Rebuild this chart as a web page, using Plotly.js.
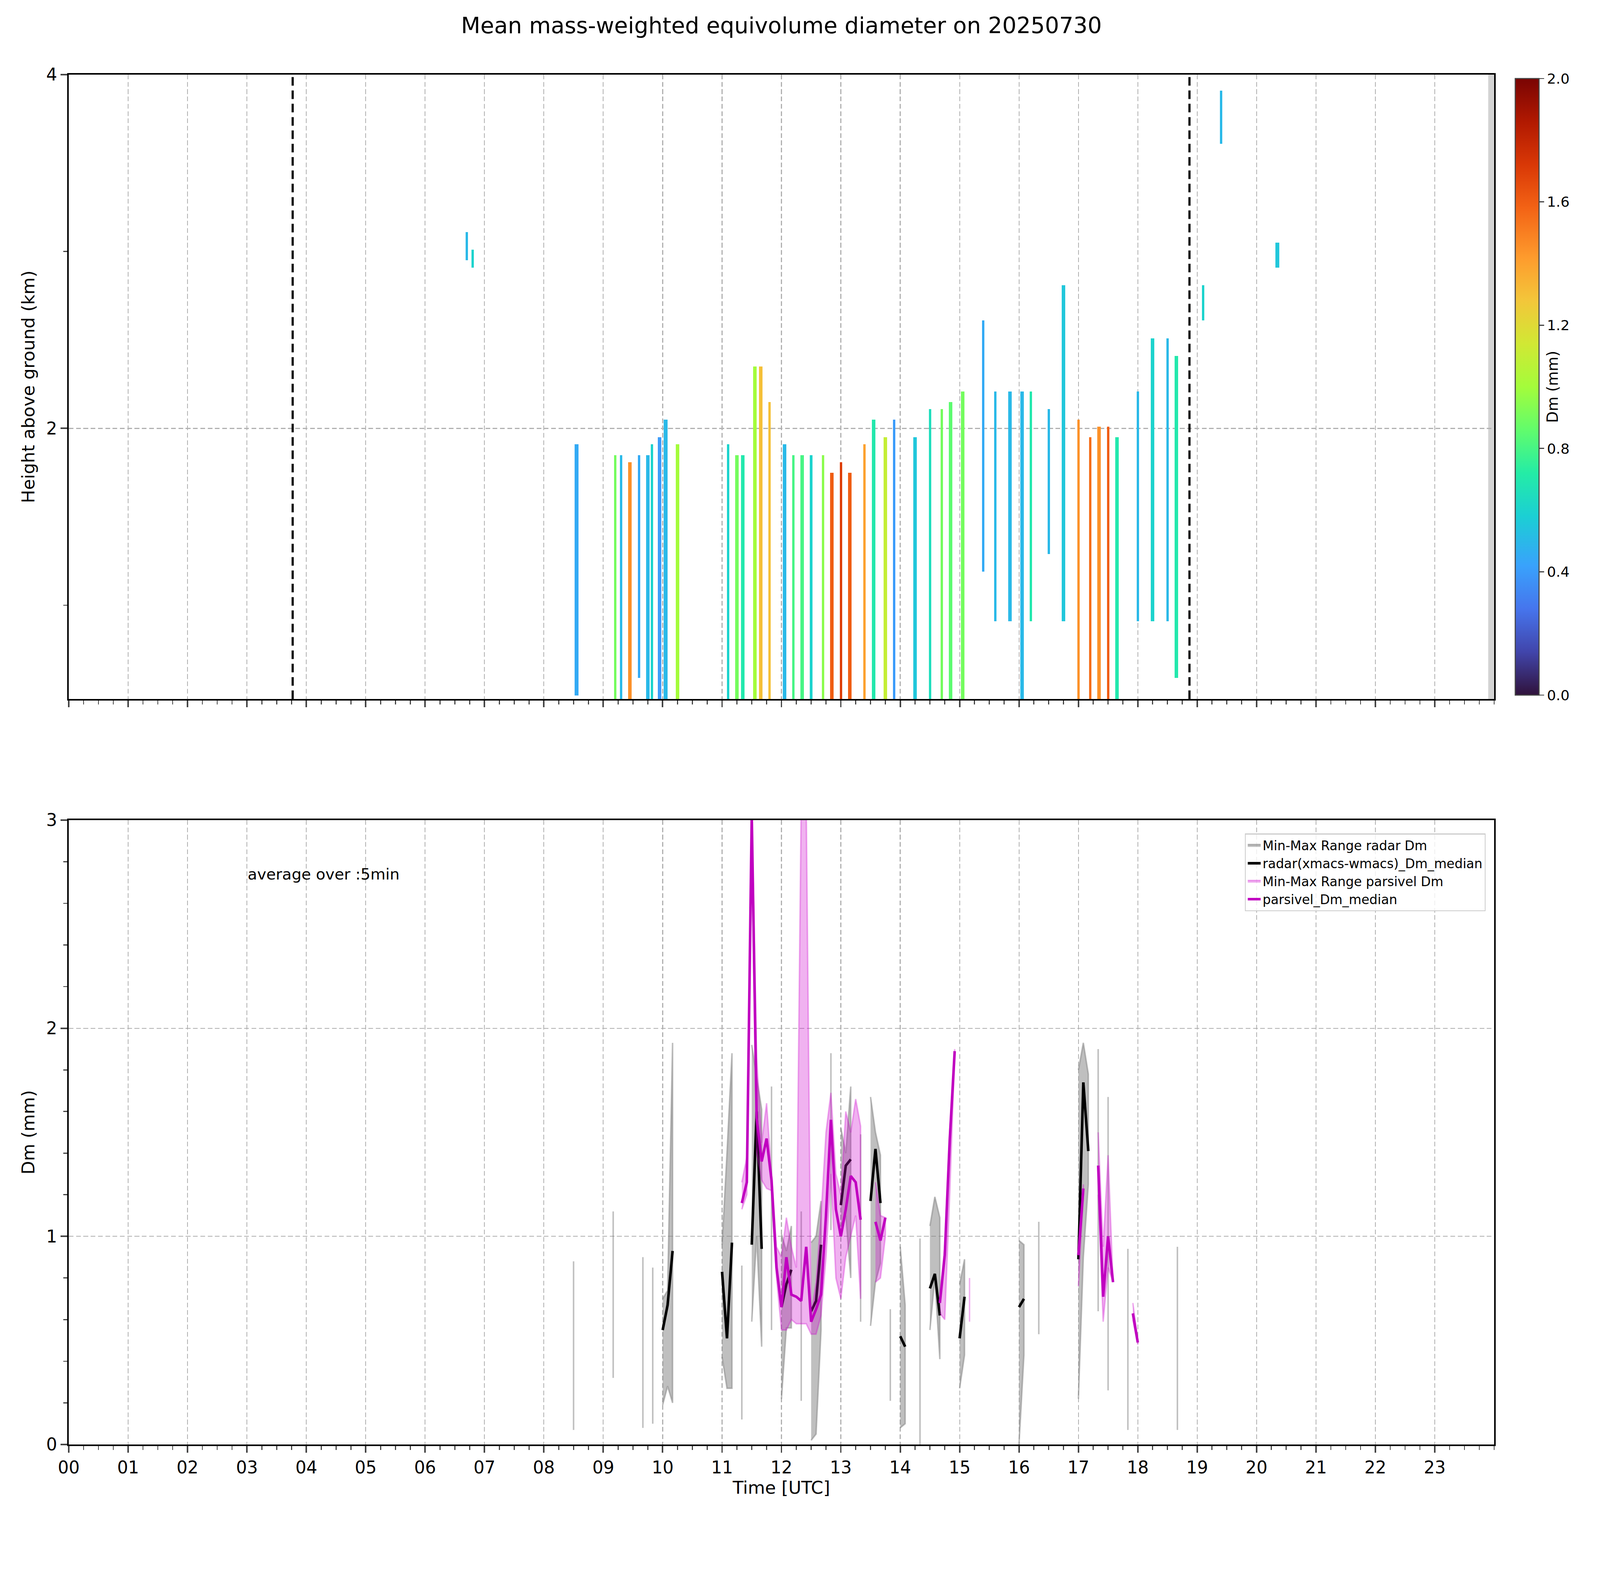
<!DOCTYPE html>
<html>
<head>
<meta charset="utf-8">
<script src="https://cdn.plot.ly/plotly-3.0.1.min.js"></script>
<style>html,body{margin:0;padding:0;background:#fff;overflow:hidden}</style>
</head>
<body>
<div id="chart"></div>
<script>
// radar stripes (top panel): centre hour, base height, top height (km), Dm (mm)
const stripeHour = [6.7, 6.8, 8.55, 9.2, 9.3, 9.45, 9.6, 9.75, 9.82, 9.95, 10.05, 10.25, 11.1, 11.25, 11.35, 11.55, 11.65, 11.8,
  12.05, 12.2, 12.35, 12.5, 12.7, 12.85, 13.0, 13.15, 13.4, 13.55, 13.75, 13.9, 14.25, 14.5, 14.7, 14.85, 15.05,
  15.4, 15.6, 15.85, 16.05, 16.2, 16.5, 16.75, 17.0, 17.2, 17.35, 17.5, 17.65, 18.0, 18.25, 18.5, 18.65, 19.1, 19.4, 20.35];
const stripeBase = [2.95, 2.9, 0.5, 0.47, 0.47, 0.47, 0.6, 0.47, 0.47, 0.47, 0.47, 0.47, 0.47, 0.47, 0.47, 0.47, 0.47, 0.47,
  0.47, 0.47, 0.47, 0.47, 0.47, 0.47, 0.47, 0.47, 0.47, 0.47, 0.47, 0.47, 0.47, 0.47, 0.47, 0.47, 0.47,
  1.2, 0.9, 0.9, 0.47, 0.9, 1.3, 0.9, 0.47, 0.47, 0.47, 0.47, 0.47, 0.9, 0.9, 0.9, 0.6, 2.6, 3.6, 2.9];
const stripeTop = [3.1, 3.0, 1.9, 1.85, 1.85, 1.8, 1.85, 1.85, 1.9, 1.95, 2.05, 1.9, 1.9, 1.85, 1.85, 2.35, 2.35, 2.15,
  1.9, 1.85, 1.85, 1.85, 1.85, 1.75, 1.8, 1.75, 1.9, 2.05, 1.95, 2.05, 1.95, 2.1, 2.1, 2.15, 2.2,
  2.6, 2.2, 2.2, 2.2, 2.2, 2.1, 2.8, 2.05, 1.95, 2.0, 2.0, 1.95, 2.2, 2.5, 2.5, 2.4, 2.8, 3.9, 3.05];
const stripeDm = [0.5, 0.6, 0.45, 0.9, 0.5, 1.45, 0.45, 0.5, 0.6, 0.4, 0.5, 1.0, 0.6, 0.9, 0.7, 1.0, 1.3, 1.3,
  0.5, 0.8, 0.8, 0.6, 0.95, 1.6, 1.7, 1.6, 1.4, 0.7, 1.1, 0.4, 0.55, 0.65, 0.9, 0.85, 0.9,
  0.45, 0.5, 0.5, 0.5, 0.7, 0.5, 0.55, 1.45, 1.55, 1.45, 1.6, 0.7, 0.5, 0.6, 0.5, 0.7, 0.6, 0.5, 0.55];
const radarEdges = [3.77, 18.87];

// bottom panel, 5-min averages (hours, mm)
const radarTime = [8.5, 9.167, 9.667, 9.833, 10.0, 10.083, 10.167, 11.0, 11.083, 11.167, 11.333, 11.5, 11.583, 11.667, 11.833,
  12.0, 12.083, 12.167, 12.333, 12.5, 12.583, 12.667, 12.833, 13.0, 13.083, 13.167, 13.333, 13.5, 13.583, 13.667, 13.833,
  14.0, 14.083, 14.333, 14.5, 14.583, 14.667, 15.0, 15.083, 16.0, 16.083, 16.333, 17.0, 17.083, 17.167, 17.333, 17.5, 17.833, 18.667];
const radarMin = [0.07, 0.32, 0.08, 0.1, 0.19, 0.28, 0.2, 0.42, 0.27, 0.27, 0.12, 0.59, 1.0, 0.47, 0.55,
  0.22, 0.56, 0.56, 0.21, 0.02, 0.05, 0.55, 1.03, 1.05, 1.1, 0.8, 0.59, 0.57, 0.78, 0.87, 0.21,
  0.08, 0.1, 0.0, 0.55, 0.8, 0.41, 0.27, 0.43, 0.0, 0.43, 0.53, 0.22, 0.9, 1.25, 0.64, 0.26, 0.07, 0.07];
const radarMed = [null, null, null, null, 0.55, 0.67, 0.93, 0.83, 0.51, 0.97, null, 0.96, 1.6, 0.94, null,
  0.66, 0.77, 0.84, null, 0.64, 0.69, 0.96, null, 1.15, 1.34, 1.37, null, 1.17, 1.42, 1.16, null,
  0.52, 0.47, null, 0.75, 0.82, 0.62, 0.51, 0.71, 0.66, 0.7, null, 0.89, 1.74, 1.41, null, null, null, null];
const radarMax = [0.88, 1.12, 0.9, 0.85, 0.7, 0.74, 1.93, 0.96, 1.4, 1.88, 0.86, 1.92, 1.76, 1.61, 1.72,
  1.01, 0.93, 1.05, 1.12, 0.97, 1.0, 1.17, 1.88, 1.52, 1.4, 1.72, 1.49, 1.67, 1.5, 1.39, 0.65,
  0.95, 0.67, 0.99, 1.05, 1.19, 1.09, 0.77, 0.89, 0.98, 0.96, 1.07, 1.8, 1.93, 1.78, 1.9, 1.67, 0.94, 0.95];

const parsTime = [11.333, 11.417, 11.5, 11.583, 11.667, 11.75, 11.833, 11.917, 12.0, 12.083, 12.167, 12.25, 12.333, 12.417, 12.5,
  12.583, 12.667, 12.75, 12.833, 12.917, 13.0, 13.083, 13.167, 13.25, 13.333, 13.583, 13.667, 13.75,
  14.667, 14.75, 14.833, 14.917, 15.167, 17.0, 17.083, 17.333, 17.417, 17.5, 17.583, 17.917, 18.0];
const parsMin = [1.13, 1.2, 2.9, 1.4, 1.27, 1.23, 1.22, 0.8, 0.55, 0.55, 0.6, 0.58, 0.58, 0.58, 0.53,
  0.53, 0.62, 0.9, 1.3, 0.8, 0.7, 0.9, 1.0, 1.1, 0.7, 0.78, 0.8, 1.0,
  0.63, 0.6, 1.2, 1.87, 0.59, 0.76, 1.2, 1.2, 0.59, 0.85, 0.78, 0.6, 0.48];
const parsMed = [1.16, 1.26, 3.02, 1.57, 1.36, 1.47, 1.27, 0.85, 0.66, 0.9, 0.72, 0.71, 0.69, 0.95, 0.59,
  0.65, 0.72, 1.1, 1.56, 1.13, 1.0, 1.13, 1.29, 1.26, 1.08, 1.07, 0.98, 1.09,
  0.68, 0.91, 1.46, 1.89, null, 0.91, 1.23, 1.34, 0.71, 1.0, 0.78, 0.63, 0.49];
const parsMax = [1.26, 1.38, 3.05, 1.86, 1.45, 1.64, 1.3, 0.95, 0.9, 1.09, 0.95, 0.85, 3.1, 3.1, 0.62,
  0.78, 1.1, 1.5, 1.69, 1.3, 1.2, 1.6, 1.5, 1.66, 1.53, 1.26, 1.1, 1.09,
  0.7, 0.95, 1.5, 1.9, 0.8, 0.91, 1.25, 1.5, 0.95, 1.39, 0.8, 0.68, 0.5];

const hourLabels = Array.from({length: 24}, (_, i) => String(i).padStart(2, '0'));

const turbo = [[0, '#30123b'], [0.07, '#4145ab'], [0.14, '#4675ed'], [0.21, '#39a2fc'], [0.29, '#1bcfd4'],
  [0.36, '#24eca6'], [0.43, '#61fc6c'], [0.5, '#a4fc3b'], [0.57, '#d1e834'], [0.64, '#f3c63a'],
  [0.71, '#fe9b2d'], [0.79, '#f36315'], [0.86, '#d93806'], [0.93, '#b11901'], [1, '#7a0403']];

// sizes are given for a 7442 x 4031 page and scaled to the real viewport
const W = window.innerWidth, H = window.innerHeight;
const s = W / 7442, sv = H / 4031;
const S = v => v * s;

// heatmap grid from stripes
const gx = [], gy = [];
for (let i = 0; i < 1200; i++) gx.push(i * 0.02 + 0.01);
for (let j = 0; j < 177; j++) gy.push(0.47 + j * 0.02 + 0.01);
const gz = gy.map(y => gx.map(x => {
  for (let k = 0; k < stripeHour.length; k++) {
    if (Math.abs(x - stripeHour[k]) < 0.025 && y >= stripeBase[k] && y <= stripeTop[k]) return stripeDm[k];
  }
  return null;
}));

// split 5-min series into contiguous segments
function segments(t) {
  const segs = [];
  let cur = [0];
  for (let i = 1; i < t.length; i++) {
    if (t[i] - t[i - 1] > 0.09) { segs.push(cur); cur = []; }
    cur.push(i);
  }
  segs.push(cur);
  return segs;
}

const traces = [{
  type: 'heatmap', x: gx, y: gy, z: gz, zmin: 0, zmax: 2, colorscale: turbo, xaxis: 'x', yaxis: 'y',
  hoverongaps: false, showlegend: false,
  colorbar: {x: 1.012, xanchor: 'left', y: 1, yanchor: 'top', len: 0.4558, thickness: S(110), outlinewidth: S(5),
    tickvals: [0, 0.4, 0.8, 1.2, 1.6, 2.0], ticktext: ['0.0', '0.4', '0.8', '1.2', '1.6', '2.0'],
    ticks: 'outside', ticklen: S(22), tickwidth: S(5), tickfont: {size: S(66)},
    title: {text: 'Dm (mm)', side: 'right', font: {size: S(70)}}}
}];
radarEdges.forEach(h => traces.push({type: 'scatter', mode: 'lines', x: [h, h], y: [0.47, 4], xaxis: 'x', yaxis: 'y',
  line: {color: '#000', width: S(10), dash: S(40) + 'px,' + S(22) + 'px'}, showlegend: false, hoverinfo: 'skip'}));

function addBand(t, lo, hi, fill, edge, name, group) {
  segments(t).forEach((sg, n) => {
    const xs = sg.map(i => t[i]), up = sg.map(i => hi[i]), dn = sg.map(i => lo[i]);
    traces.push({type: 'scatter', mode: 'lines', x: xs.concat(xs.slice().reverse()), y: up.concat(dn.slice().reverse()),
      fill: 'toself', fillcolor: fill, line: {color: edge, width: S(7)}, xaxis: 'x2', yaxis: 'y2',
      name, legendgroup: group, showlegend: n === 0, hoverinfo: 'skip'});
  });
}
function addMedian(t, med, color, name, group) {
  const xs = [], ys = [];
  segments(t).forEach(sg => { sg.forEach(i => { xs.push(t[i]); ys.push(med[i]); }); xs.push(null); ys.push(null); });
  traces.push({type: 'scatter', mode: 'lines', x: xs, y: ys, connectgaps: false, line: {color, width: S(12)},
    xaxis: 'x2', yaxis: 'y2', name, legendgroup: group});
}
addBand(radarTime, radarMin, radarMax, 'rgba(128,128,128,0.5)', 'rgba(128,128,128,0.5)', 'Min-Max Range radar Dm', 'rb');
addMedian(radarTime, radarMed, '#000000', 'radar(xmacs-wmacs)_Dm_median', 'rm');
addBand(parsTime, parsMin, parsMax, 'rgba(204,0,204,0.3)', 'rgba(204,0,204,0.3)', 'Min-Max Range parsivel Dm', 'pb');
addMedian(parsTime, parsMed, '#c000c0', 'parsivel_Dm_median', 'pm');

const dash = S(22) + 'px,' + S(12) + 'px';
const xBase = {range: [0, 24], tickvals: Array.from({length: 24}, (_, i) => i), ticktext: hourLabels,
  showgrid: true, gridcolor: '#b0b0b0', gridwidth: S(4), griddash: dash, ticks: 'outside', ticklen: S(30), tickwidth: S(7),
  minor: {dtick: 0.25, ticks: 'outside', ticklen: S(17), tickwidth: S(5), showgrid: false},
  showline: true, linecolor: '#000', linewidth: S(8), mirror: true, zeroline: false, tickfont: {size: S(80)}};

const layout = {
  width: W, height: H, font: {family: 'DejaVu Sans', size: S(80), color: '#000'}, paper_bgcolor: '#fff', plot_bgcolor: '#fff',
  margin: {l: S(320), r: S(492), t: 191 * sv, b: 334 * sv},
  title: {text: 'Mean mass-weighted equivolume diameter on 20250730', x: 0.5, xref: 'paper',
    y: 1 - 45 * sv / H, yanchor: 'top', font: {size: S(104)}},
  xaxis: Object.assign({}, xBase, {domain: [0, 1], anchor: 'y', showticklabels: false}),
  yaxis: {domain: [0.5442, 1], range: [0.47, 4], tickvals: [2, 4], showgrid: true, gridcolor: '#b0b0b0', gridwidth: S(4),
    griddash: dash, ticks: 'outside', ticklen: S(30), tickwidth: S(7), tickfont: {size: S(80)},
    minor: {tickvals: [1, 3], ticks: 'outside', ticklen: S(17), tickwidth: S(5), showgrid: false},
    showline: true, linecolor: '#000', linewidth: S(8), mirror: true, zeroline: false,
    title: {text: 'Height above ground (km)', font: {size: S(82)}, standoff: S(30)}},
  xaxis2: Object.assign({}, xBase, {domain: [0, 1], anchor: 'y2', title: {text: 'Time [UTC]', font: {size: S(82)}, standoff: S(10)}}),
  yaxis2: {domain: [0, 0.4558], range: [0, 3], dtick: 1, showgrid: true, gridcolor: '#b0b0b0', gridwidth: S(4),
    griddash: dash, ticks: 'outside', ticklen: S(30), tickwidth: S(7), tickfont: {size: S(80)},
    minor: {dtick: 0.2, ticks: 'outside', ticklen: S(17), tickwidth: S(5), showgrid: false},
    showline: true, linecolor: '#000', linewidth: S(8), mirror: true, zeroline: false,
    title: {text: 'Dm (mm)', font: {size: S(82)}, standoff: S(30)}},
  shapes: [{type: 'rect', xref: 'x', yref: 'y domain', x0: 23.9, x1: 24, y0: 0, y1: 1, fillcolor: '#d3d3d3', line: {width: 0}, layer: 'below'}],
  annotations: [{text: 'average over :5min', x: 3.0, y: 2.74, xref: 'x2', yref: 'y2', xanchor: 'left', showarrow: false, font: {size: S(72)}}],
  legend: {x: 0.994, xanchor: 'right', y: 0.446, yanchor: 'top', bgcolor: 'rgba(255,255,255,0.8)', bordercolor: '#cccccc',
    borderwidth: S(4), font: {size: S(60)}, tracegroupgap: 0, itemwidth: S(60)}
};

Plotly.newPlot('chart', traces, layout, {displayModeBar: false, staticPlot: true});
</script>
</body>
</html>
